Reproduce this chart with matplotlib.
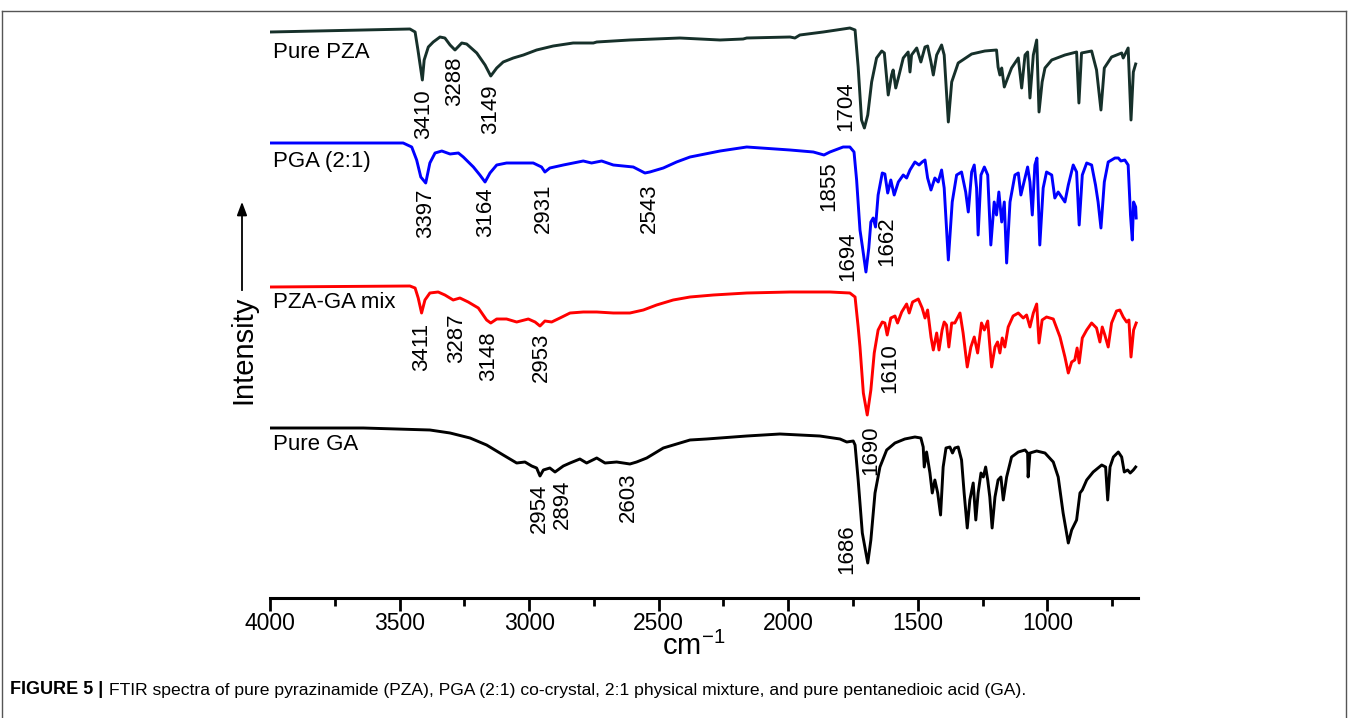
import matplotlib.pyplot as plt
from matplotlib import font_manager

# wavenumber (cm-1) / intensity (a.u., curves already stacked)
pza_wn = [4000, 3460, 3440, 3429, 3412, 3405, 3389, 3370, 3344, 3325, 3305, 3286, 3260, 3241, 3202, 3170,
          3148, 3125, 3100, 3061, 3022, 2971, 2907, 2830, 2752, 2739, 2611, 2418, 2263, 2174, 2160, 1993,
          1974, 1955, 1865, 1813, 1762, 1742, 1730, 1717, 1706, 1693, 1678, 1659, 1639, 1629, 1614, 1601,
          1595, 1585, 1575, 1556, 1537, 1530, 1524, 1504, 1488, 1472, 1462, 1449, 1440, 1427, 1408, 1398,
          1382, 1369, 1344, 1292, 1241, 1196, 1190, 1183, 1176, 1166, 1153, 1138, 1112, 1099, 1086, 1076,
          1067, 1054, 1041, 1032, 1020, 1009, 983, 932, 887, 878, 868, 829, 810, 793, 780, 752, 713, 707,
          688, 677, 668, 659]
pza_int = [566, 569, 566, 548, 518, 538, 551, 556, 561, 560, 553, 548, 555, 554, 545, 533,
           522, 530, 536, 540, 543, 548, 552, 555, 555, 556, 558, 560, 558, 559, 560, 561,
           560, 563, 566, 568, 570, 568, 531, 478, 470, 483, 516, 540, 547, 545, 503, 523,
           528, 510, 520, 540, 546, 526, 543, 550, 536, 551, 552, 536, 523, 543, 553, 543,
           476, 516, 535, 544, 547, 548, 531, 523, 530, 511, 520, 530, 540, 510, 543, 546,
           500, 543, 558, 486, 516, 530, 538, 543, 546, 495, 545, 547, 528, 488, 530, 541,
           545, 540, 550, 478, 526, 534]

pga_wn = [4000, 3486, 3453, 3434, 3418, 3399, 3383, 3363, 3337, 3305, 3273, 3254, 3215, 3190, 3170, 3151,
          3125, 3087, 3035, 2984, 2952, 2939, 2920, 2868, 2791, 2759, 2720, 2675, 2598, 2553, 2534, 2482,
          2431, 2379, 2341, 2263, 2160, 1993, 1903, 1862, 1839, 1788, 1762, 1746, 1736, 1723, 1714, 1700,
          1689, 1681, 1672, 1663, 1653, 1637, 1627, 1616, 1604, 1591, 1575, 1556, 1543, 1530, 1511, 1495,
          1483, 1472, 1462, 1449, 1434, 1421, 1408, 1398, 1382, 1367, 1350, 1331, 1315, 1305, 1292, 1282,
          1273, 1267, 1256, 1243, 1230, 1218, 1205, 1196, 1187, 1176, 1166, 1157, 1144, 1125, 1112, 1102,
          1086, 1076, 1067, 1058, 1048, 1040, 1029, 1016, 1003, 983, 971, 958, 945, 932, 919, 900,
          887, 877, 865, 848, 829, 814, 804, 793, 780, 765, 739, 726, 716, 701, 688, 679,
          672, 667, 659, 657]
pga_int = [455, 455, 451, 438, 421, 415, 435, 445, 447, 444, 445, 441, 431, 423, 416, 425,
           433, 435, 435, 435, 431, 426, 430, 433, 437, 435, 437, 433, 431, 425, 426, 430,
           436, 441, 443, 447, 451, 448, 446, 443, 446, 451, 451, 446, 418, 368, 352, 326,
           350, 376, 380, 371, 403, 425, 424, 405, 418, 403, 416, 423, 420, 428, 436, 433,
           436, 438, 420, 408, 420, 416, 428, 410, 338, 396, 423, 426, 406, 386, 426, 433,
           410, 363, 423, 431, 423, 353, 396, 383, 406, 376, 396, 335, 396, 423, 425, 403,
           420, 431, 416, 383, 433, 440, 353, 410, 426, 423, 400, 406, 401, 396, 413, 433,
           426, 373, 423, 435, 433, 413, 396, 370, 416, 436, 440, 440, 437, 438, 433, 383,
           358, 396, 391, 380]

mix_wn = [4000, 3460, 3440, 3428, 3415, 3402, 3383, 3351, 3325, 3293, 3267, 3235, 3196, 3164, 3148, 3125,
          3087, 3048, 3003, 2977, 2958, 2939, 2913, 2881, 2842, 2791, 2739, 2675, 2611, 2559, 2508, 2444,
          2379, 2289, 2160, 1993, 1839, 1762, 1742, 1730, 1723, 1710, 1695, 1681, 1668, 1653, 1637, 1627,
          1618, 1604, 1588, 1578, 1562, 1543, 1533, 1520, 1498, 1483, 1472, 1462, 1449, 1440, 1427, 1418,
          1406, 1398, 1389, 1380, 1369, 1357, 1337, 1325, 1309, 1295, 1282, 1269, 1254, 1243, 1230, 1215,
          1202, 1192, 1183, 1174, 1164, 1151, 1132, 1112, 1093, 1080, 1067, 1054, 1041, 1032, 1020, 1003,
          977, 951, 932, 919, 906, 894, 885, 877, 865, 848, 829, 810, 797, 788, 778, 765,
          752, 733, 720, 707, 694, 685, 677, 667, 657]
mix_int = [311, 312, 310, 300, 285, 298, 305, 306, 303, 298, 300, 296, 290, 278, 275, 279,
           279, 276, 279, 276, 272, 277, 276, 280, 285, 286, 286, 285, 285, 288, 293, 298,
           301, 303, 305, 306, 306, 305, 301, 271, 251, 205, 183, 208, 245, 268, 276, 275,
           263, 280, 282, 275, 286, 294, 285, 296, 299, 290, 280, 288, 261, 248, 265, 248,
           268, 276, 273, 251, 275, 275, 285, 265, 231, 251, 261, 245, 275, 268, 277, 231,
           251, 256, 245, 260, 251, 271, 282, 285, 280, 283, 271, 285, 294, 255, 278, 281,
           279, 261, 241, 225, 236, 238, 250, 235, 260, 268, 275, 270, 256, 271, 263, 251,
           275, 287, 288, 281, 276, 278, 241, 268, 275]

ga_wn = [4000, 3640, 3383, 3305, 3228, 3164, 3100, 3048, 3016, 2990, 2971, 2958, 2945, 2920, 2900, 2868,
         2842, 2804, 2778, 2739, 2707, 2662, 2611, 2585, 2546, 2482, 2379, 2315, 2160, 2032, 1878, 1800,
         1774, 1749, 1742, 1730, 1714, 1693, 1681, 1665, 1646, 1620, 1588, 1550, 1511, 1488, 1479, 1475,
         1466, 1453, 1444, 1434, 1423, 1412, 1402, 1391, 1376, 1366, 1357, 1344, 1331, 1321, 1309, 1299,
         1286, 1276, 1267, 1256, 1247, 1238, 1230, 1222, 1213, 1202, 1190, 1179, 1170, 1157, 1138, 1112,
         1086, 1076, 1074, 1067, 1041, 1009, 977, 958, 939, 919, 906, 887, 874, 865, 848, 823,
         790, 775, 767, 758, 745, 726, 713, 703, 690, 680, 668, 659]
ga_int = [170, 170, 168, 165, 160, 153, 143, 135, 136, 132, 130, 122, 128, 130, 126, 132,
          135, 139, 135, 140, 135, 136, 134, 136, 140, 150, 158, 159, 162, 164, 162, 159,
          156, 157, 153, 118, 65, 35, 58, 105, 131, 148, 155, 159, 161, 160, 151, 131,
          146, 125, 105, 118, 105, 83, 131, 150, 151, 145, 150, 151, 138, 105, 70, 98,
          115, 78, 105, 125, 121, 131, 118, 101, 70, 101, 118, 121, 98, 121, 141, 146,
          148, 145, 121, 145, 147, 145, 136, 121, 85, 55, 68, 78, 105, 108, 118, 126,
          133, 131, 98, 131, 141, 146, 141, 126, 128, 125, 128, 131]

names = ["Pure PZA", "PGA (2:1)", "PZA-GA mix", "Pure GA"]
colors = ["#16302a", "#0000ff", "#ff0000", "#000000"]
name_pos = [(3988, 545), (3988, 436), (3988, 296), (3988, 153)]

# peak labels: (text, wavenumber, intensity) for the text centre
peak_labels = [
    ("3410", 3406, 484), ("3288", 3286, 517), ("3149", 3147, 489), ("1704", 1777, 492),
    ("3397", 3398, 385), ("3164", 3166, 386), ("2931", 2946, 390), ("2543", 2537, 390),
    ("1855", 1843, 412), ("1694", 1769, 342), ("1662", 1619, 357),
    ("3411", 3413, 251), ("3287", 3278, 260), ("3148", 3155, 242), ("2953", 2954, 241),
    ("1610", 1607, 230), ("1690", 1681, 148),
    ("2954", 2962, 90), ("2894", 2873, 94), ("2603", 2615, 101), ("1686", 1773, 49),
]

installed = {f.name for f in font_manager.fontManager.ttflist}
narrow = "Liberation Sans Narrow" if "Liberation Sans Narrow" in installed else "Liberation Sans"
plt.rcParams['font.family'] = ['Liberation Sans', 'DejaVu Sans']

W, H = 1348, 718
fig = plt.figure(figsize=(W / 100, H / 100), dpi=100)
ax = fig.add_axes([270 / W, (H - 598) / H, 868 / W, 587 / H])

series = [(pza_wn, pza_int), (pga_wn, pga_int), (mix_wn, mix_int), (ga_wn, ga_int)]
for (wn, inten), c in zip(series, colors):
    ax.plot(wn, inten, color=c, lw=2.1, solid_joinstyle='round')

for name, (x, y) in zip(names, name_pos):
    ax.text(x, y, name, ha='left', va='center', fontsize=16)

for txt, x, y in peak_labels:
    ax.text(x, y, txt, rotation=90, ha='center', va='center', fontsize=16)

ax.set_xlim(4000, 650)
ax.set_ylim(0, 587)
for s in ['top', 'right', 'left']:
    ax.spines[s].set_visible(False)
ax.spines['bottom'].set_linewidth(2.2)
ax.set_yticks([])
ax.set_xticks([4000, 3500, 3000, 2500, 2000, 1500, 1000])
ax.set_xticks([3750, 3250, 2750, 2250, 1750, 1250, 750], minor=True)
ax.tick_params(axis='x', which='major', direction='out', length=9, width=2, pad=1)
ax.tick_params(axis='x', which='minor', direction='out', length=6, width=2)
for lab in ax.get_xticklabels():
    lab.set_fontfamily(narrow)
    lab.set_fontsize(16.5)
ax.set_xlabel(r"cm$^{\mathregular{-1}}$", fontsize=21, labelpad=-2)
ax.xaxis.label.set_x(0.488)

# y label with arrow
fig.text(243 / W, (H - 350) / H, "Intensity", rotation=90, ha='center', va='center', fontsize=21)
fig.add_artist(plt.Line2D([242 / W, 242 / W], [(H - 290) / H, (H - 212) / H], color='black', lw=1.3))
ax.annotate("", xy=(242, H - 199), xytext=(242, H - 215), xycoords='figure pixels',
            textcoords='figure pixels',
            arrowprops=dict(arrowstyle='-|>,head_length=0.8,head_width=0.3', color='black', lw=1.3))

# caption: bold figure number, then the description right after it
cap_y = (H - 690) / H
bold = fig.text(10 / W, cap_y, "FIGURE 5 |", fontsize=13, fontweight='bold',
                fontfamily=narrow, va='center')
fig.canvas.draw()
x_end = bold.get_window_extent().x1 / W
fig.text(x_end + 6 / W, cap_y,
         "FTIR spectra of pure pyrazinamide (PZA), PGA (2:1) co-crystal, 2:1 physical mixture, "
         "and pure pentanedioic acid (GA).", fontsize=12.6, fontfamily=narrow, va='center')

# figure frame
frame = dict(color='#555555', lw=1)
fig.add_artist(plt.Line2D([2 / W, 2 / W], [0, (H - 11) / H], **frame))
fig.add_artist(plt.Line2D([2 / W, 1346 / W], [(H - 11) / H, (H - 11) / H], **frame))
fig.add_artist(plt.Line2D([1346 / W, 1346 / W], [0, (H - 11) / H], **frame))

fig.savefig("out.png", dpi=100)
